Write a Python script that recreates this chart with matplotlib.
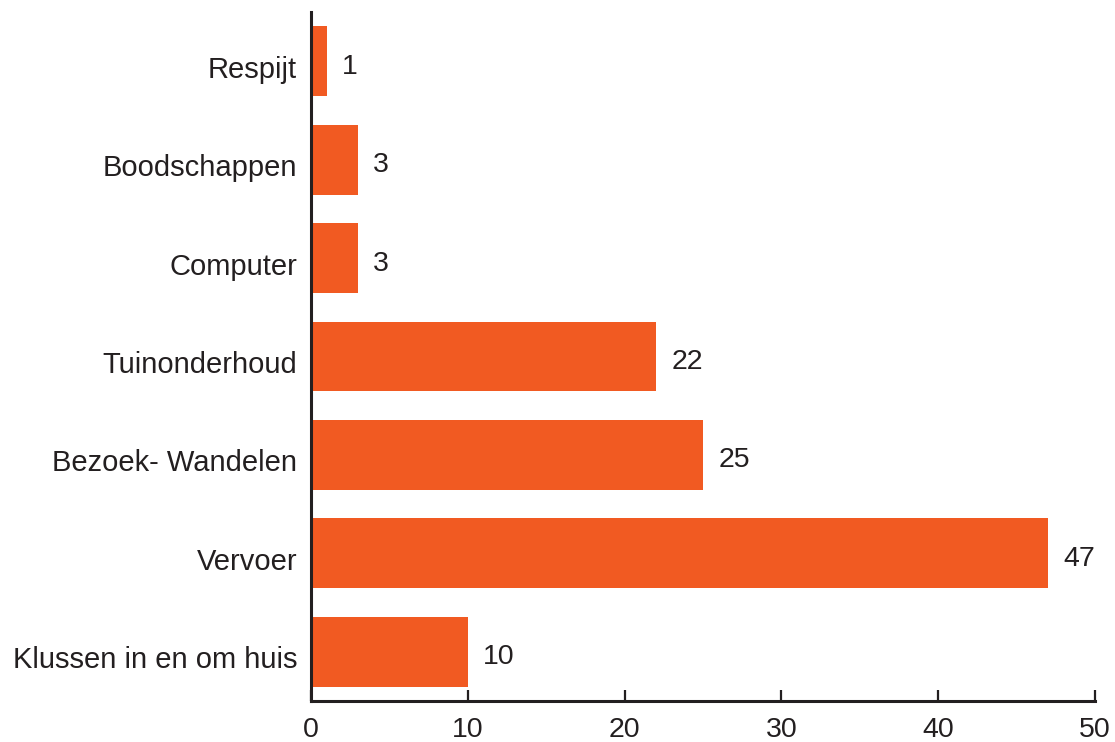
import matplotlib.pyplot as plt
import matplotlib.transforms as mtransforms
import numpy as np

plt.rcParams['font.family'] = ['Liberation Sans', 'DejaVu Sans']

categories = ['Klussen in en om huis', 'Vervoer', 'Bezoek- Wandelen', 'Tuinonderhoud',
              'Computer', 'Boodschappen', 'Respijt']
values = [10, 47, 25, 22, 3, 3, 1]
x_ticks = [0, 10, 20, 30, 40, 50]

bar_color = '#F15A22'
ink = '#231F20'

fig = plt.figure(figsize=(11.15, 7.42), dpi=100)
ax = fig.add_axes([0.2789, 0.0553, 0.7031, 0.9285])

y = np.arange(len(categories))
ax.barh(y, values, height=0.71, color=bar_color, edgecolor='none')

for yi, v in zip(y, values):
    ax.annotate(str(v), (v, yi), xytext=(11, -4), textcoords='offset points',
                ha='left', va='center', fontsize=20.5, color=ink)

ax.set_xlim(0, 50)
ax.set_ylim(-0.5, len(categories) - 0.5)
ax.set_yticks(y)
ax.set_yticklabels(categories)
ax.set_xticks(x_ticks)

for side in ['top', 'right']:
    ax.spines[side].set_visible(False)
for side in ['left', 'bottom']:
    ax.spines[side].set_linewidth(2.2)
    ax.spines[side].set_color(ink)

ax.tick_params(axis='x', direction='in', length=8, width=1.6, color=ink,
               labelsize=20.5, labelcolor=ink, pad=11.5)
ax.tick_params(axis='y', length=0, labelsize=21, labelcolor=ink, pad=10)

# labels sit a little below bar centres in the original
shift = mtransforms.ScaledTranslation(0, -4 / 72, fig.dpi_scale_trans)
for lab in ax.get_yticklabels():
    lab.set_transform(lab.get_transform() + shift)

plt.savefig('out.png', dpi=100)
